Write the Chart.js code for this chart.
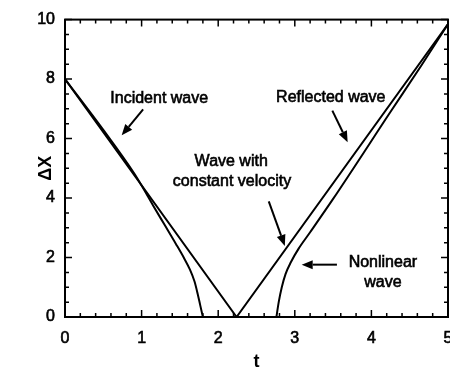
<!DOCTYPE html>
<html>
<head>
<meta charset="utf-8">
<script src="https://cdn.jsdelivr.net/npm/chart.js@4/dist/chart.umd.min.js"></script>
<style>
  body { margin: 0; background: #fff; }
  canvas { display: block; }
</style>
</head>
<body>
<canvas id="waveChart" width="450" height="374"></canvas>
<script>
// wave front position vs time
const tConst = [0, 2.24, 5];
const dxConst = [8, 0, 9.85];

const tIncident = [0, 0.5, 0.9, 1.0, 1.15, 1.3, 1.45, 1.55, 1.63, 1.69, 1.73, 1.765, 1.80];
const dxIncident = [8, 6.29, 4.84, 4.42, 3.75, 3.1, 2.45, 2.0, 1.6, 1.2, 0.8, 0.4, 0];

const tReflected = [2.76, 2.79, 2.83, 2.88, 2.95, 3.05, 3.2, 3.5, 4.25, 4.65, 5];
const dxReflected = [0, 0.5, 1.0, 1.45, 1.85, 2.3, 2.85, 3.97, 6.9, 8.45, 9.85];

const xTicks = [0, 1, 2, 3, 4, 5];
const yTicks = [0, 2, 4, 6, 8, 10];

// text labels and arrows, in data units
const notes = [
    { text: 'Incident wave', t: 1.23, dx: 7.34 },
    { text: 'Reflected wave', t: 3.47, dx: 7.38 },
    { text: 'Wave with', t: 2.17, dx: 5.22 },
    { text: 'constant velocity', t: 2.18, dx: 4.55 },
    { text: 'Nonlinear', t: 4.15, dx: 1.83 },
    { text: 'wave', t: 4.15, dx: 1.16 }
];
const arrows = [
    { from: [1.02, 6.98], to: [0.74, 6.11] },
    { from: [3.49, 6.94], to: [3.69, 5.88] },
    { from: [2.66, 3.89], to: [2.87, 2.39] },
    { from: [3.55, 1.76], to: [3.09, 1.76] }
];

function toPoints(xs, ys) {
    return xs.map((x, i) => ({ x: x, y: ys[i] }));
}

const FONT = "'Liberation Sans', Arial, Helvetica, sans-serif";

// frame, inward ticks (major + minor) on all four sides, notes
const framePlugin = {
    id: 'frame',
    afterDraw(chart) {
        const ctx = chart.ctx;
        const a = chart.chartArea;
        const xs = chart.scales.x, ys = chart.scales.y;
        ctx.save();
        ctx.strokeStyle = '#000';
        ctx.lineWidth = 2;
        ctx.strokeRect(a.left, a.top, a.right - a.left, a.bottom - a.top);

        ctx.lineWidth = 1.5;
        ctx.beginPath();
        for (let v = 0; v <= 5.0001; v += 0.2) {
            const px = xs.getPixelForValue(v);
            const len = Math.abs(v - Math.round(v)) < 1e-6 ? 7 : 4;
            ctx.moveTo(px, a.bottom); ctx.lineTo(px, a.bottom - len);
            ctx.moveTo(px, a.top); ctx.lineTo(px, a.top + len);
        }
        for (let v = 0; v <= 10.0001; v += 0.5) {
            const py = ys.getPixelForValue(v);
            const len = Math.abs(v / 2 - Math.round(v / 2)) < 1e-6 ? 7 : 4;
            ctx.moveTo(a.left, py); ctx.lineTo(a.left + len, py);
            ctx.moveTo(a.right, py); ctx.lineTo(a.right - len, py);
        }
        ctx.stroke();

        // annotations
        ctx.fillStyle = '#000';
        ctx.font = '16px ' + FONT;
        ctx.textAlign = 'center';
        ctx.textBaseline = 'middle';
        ctx.lineWidth = 0.6;
        notes.forEach(n => {
            const px = xs.getPixelForValue(n.t), py = ys.getPixelForValue(n.dx);
            ctx.fillText(n.text, px, py);
            ctx.strokeText(n.text, px, py);
        });

        ctx.lineWidth = 2;
        arrows.forEach(ar => {
            const x1 = xs.getPixelForValue(ar.from[0]), y1 = ys.getPixelForValue(ar.from[1]);
            const x2 = xs.getPixelForValue(ar.to[0]), y2 = ys.getPixelForValue(ar.to[1]);
            const ang = Math.atan2(y2 - y1, x2 - x1);
            const head = 11, half = 4.5;
            const bx = x2 - head * Math.cos(ang), by = y2 - head * Math.sin(ang);
            ctx.beginPath();
            ctx.moveTo(x1, y1);
            ctx.lineTo(bx, by);
            ctx.stroke();
            ctx.beginPath();
            ctx.moveTo(x2, y2);
            ctx.lineTo(bx + half * Math.sin(ang), by - half * Math.cos(ang));
            ctx.lineTo(bx - half * Math.sin(ang), by + half * Math.cos(ang));
            ctx.closePath();
            ctx.fill();
        });
        ctx.restore();
    }
};

const lineStyle = {
    showLine: true,
    borderColor: '#000',
    borderWidth: 2,
    pointRadius: 0,
    fill: false
};

const tickFont = {
    color: '#000',
    textStrokeColor: '#000',
    textStrokeWidth: 0.6,
    font: { size: 16, family: FONT }
};

const ctx = document.getElementById('waveChart').getContext('2d');
const chart = new Chart(ctx, {
    type: 'scatter',
    data: {
        datasets: [
            Object.assign({ label: 'Constant velocity', data: toPoints(tConst, dxConst), tension: 0 }, lineStyle),
            Object.assign({ label: 'Nonlinear incident', data: toPoints(tIncident, dxIncident), cubicInterpolationMode: 'monotone' }, lineStyle),
            Object.assign({ label: 'Nonlinear reflected', data: toPoints(tReflected, dxReflected), cubicInterpolationMode: 'monotone' }, lineStyle)
        ]
    },
    options: {
        responsive: false,
        animation: false,
        devicePixelRatio: 1,
        layout: { padding: { top: 16, right: 2, left: 0, bottom: 0 } },
        plugins: {
            legend: { display: false },
            tooltip: { enabled: false }
        },
        scales: {
            x: {
                type: 'linear',
                min: 0,
                max: 5,
                afterBuildTicks: s => { s.ticks = xTicks.map(v => ({ value: v })); },
                afterFit: s => { s.height = 57; s.paddingRight = 0; s.paddingLeft = 0; },
                grid: { display: false, drawTicks: false },
                border: { display: false },
                ticks: Object.assign({ padding: 12 }, tickFont),
                title: {
                    display: true, text: 't', color: '#000',
                    font: { size: 18, family: FONT, weight: 'bold' },
                    padding: { top: 0, bottom: 1 }
                }
            },
            y: {
                type: 'linear',
                min: 0,
                max: 10,
                afterBuildTicks: s => { s.ticks = yTicks.map(v => ({ value: v })); },
                afterFit: s => { s.width = 65; },
                grid: { display: false, drawTicks: false },
                border: { display: false },
                ticks: Object.assign({ padding: 10 }, tickFont),
                title: {
                    display: true, text: 'ΔX', color: '#000',
                    font: { size: 18, family: FONT, weight: 'bold' },
                    padding: { top: 35, bottom: 0 }
                }
            }
        }
    },
    plugins: [framePlugin]
});
</script>
</body>
</html>
